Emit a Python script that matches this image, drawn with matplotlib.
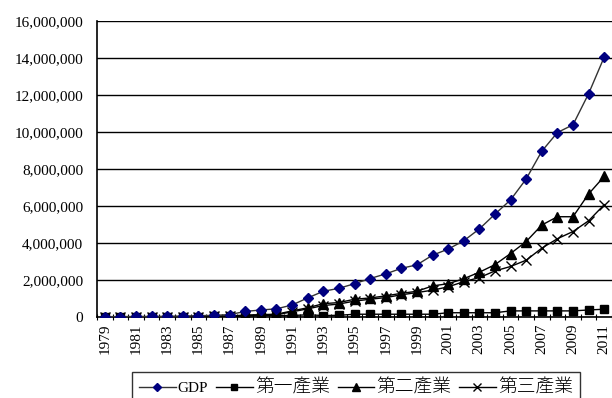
import matplotlib.pyplot as plt
import numpy as np
from matplotlib.ticker import FuncFormatter, FixedLocator

years = list(range(1979, 2012))

gdp = [0.02, 0.02, 0.03, 0.03, 0.04, 0.05, 0.07, 0.09, 0.13, 0.30, 0.38, 0.44,
       0.65, 1.03, 1.39, 1.55, 1.80, 2.08, 2.33, 2.63, 2.82, 3.34, 3.67, 4.12,
       4.76, 5.56, 6.33, 7.46, 8.96, 9.97, 10.39, 12.07, 14.05]
primary = [0.01, 0.01, 0.01, 0.01, 0.02, 0.02, 0.02, 0.03, 0.03, 0.05, 0.07, 0.08,
           0.08, 0.12, 0.08, 0.09, 0.15, 0.15, 0.15, 0.15, 0.15, 0.15, 0.23, 0.23,
           0.23, 0.23, 0.33, 0.33, 0.33, 0.33, 0.33, 0.38, 0.42]
secondary = [0.01, 0.01, 0.01, 0.01, 0.01, 0.02, 0.03, 0.04, 0.06, 0.10, 0.13, 0.15,
             0.33, 0.50, 0.72, 0.78, 0.96, 1.03, 1.14, 1.28, 1.39, 1.68, 1.80, 2.07,
             2.42, 2.83, 3.43, 4.08, 4.97, 5.42, 5.42, 6.65, 7.60]
tertiary = [0.01, 0.01, 0.01, 0.01, 0.01, 0.01, 0.02, 0.03, 0.04, 0.08, 0.10, 0.12,
            0.28, 0.44, 0.62, 0.70, 0.86, 0.96, 1.05, 1.20, 1.32, 1.45, 1.63, 1.91,
            2.13, 2.49, 2.73, 3.07, 3.72, 4.23, 4.62, 5.20, 6.07]

series_names = ['GDP', '第一產業', '第二產業', '第三產業']

plt.rcParams['font.family'] = ['Liberation Serif', 'Noto Sans CJK JP']

fig = plt.figure(figsize=(6.12, 3.98), dpi=100)
ax = fig.add_axes([97 / 612, 1 - 317 / 398, 1 - 97 / 612, (317 - 21) / 398])

x = np.arange(len(years))
scale = 1_000_000
ax.plot(x, np.array(gdp) * scale, color='#333333', lw=1.0, marker='D', ms=5,
        mfc='#000080', mec='#000080', label=series_names[0], zorder=5)
ax.plot(x, np.array(primary) * scale, color='black', lw=1.0, marker='s', ms=5.5,
        mfc='black', mec='black', label=series_names[1], zorder=4)
ax.plot(x, np.array(secondary) * scale, color='black', lw=1.0, marker='^', ms=6.5,
        mfc='black', mec='black', label=series_names[2], zorder=4)
ax.plot(x, np.array(tertiary) * scale, color='black', lw=1.0, marker='x', ms=6.5,
        mew=1.0, label=series_names[3], zorder=4)

ax.set_xlim(-0.5, len(years) - 0.5)
ax.set_ylim(0, 16_000_000)
ax.set_yticks(np.arange(0, 16_000_001, 2_000_000))
ax.yaxis.set_major_formatter(FuncFormatter(lambda v, p: f'{int(v):,}'))
ax.grid(axis='y', color='black', lw=1.0)
ax.set_axisbelow(True)

# year labels every other category, small ticks on category boundaries
ax.set_xticks(x[::2])
ax.set_xticklabels([str(y) for y in years[::2]], rotation=90)
ax.xaxis.set_minor_locator(FixedLocator(np.arange(-0.5, len(years), 1.0)))
ax.tick_params(axis='x', which='major', length=0, pad=5, labelsize=11)
ax.tick_params(axis='x', which='minor', length=4, direction='inout', width=0.8)
ax.tick_params(axis='y', length=0, pad=10, labelsize=11)

for side in ['top', 'right']:
    ax.spines[side].set_visible(False)
for side in ['left', 'bottom']:
    ax.spines[side].set_linewidth(1.2)
    ax.spines[side].set_color('black')

leg = fig.legend(loc='upper left', bbox_to_anchor=(132 / 612, 1 - 372 / 398),
                 ncol=4, frameon=True, fancybox=False, edgecolor='black',
                 fontsize=11, handlelength=2.4, columnspacing=0.5,
                 handletextpad=0.15, borderpad=0.45, borderaxespad=0,
                 markerscale=0.8)
leg.get_frame().set_linewidth(1.0)
# CJK labels are set a little larger, like the Mincho face they come from
for t in leg.get_texts()[1:]:
    t.set_fontsize(13.5)
    t.set_fontweight('light')

fig.savefig('out.png', dpi=100)
